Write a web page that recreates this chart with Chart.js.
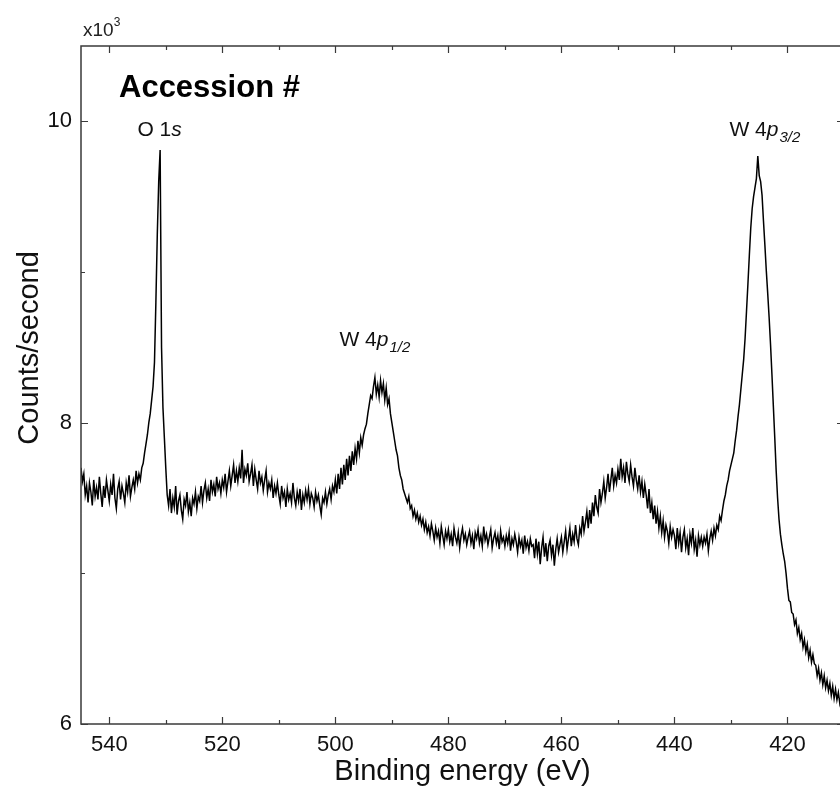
<!DOCTYPE html>
<html>
<head>
<meta charset="utf-8">
<script src="https://cdn.jsdelivr.net/npm/chart.js@4.4.1/dist/chart.umd.min.js"></script>
<style>
  html, body { margin: 0; padding: 0; background: #fff; overflow: hidden; }
  #wrap { position: relative; width: 860px; height: 789px; }
</style>
</head>
<body>
<div id="wrap"><canvas id="xps"></canvas></div>
<script>
// Binding energy grid (eV), 0.25 eV steps, one row = 5 eV
const energy = [
  545, 544.75, 544.5, 544.25, 544, 543.75, 543.5, 543.25, 543, 542.75, 542.5, 542.25, 542, 541.75, 541.5, 541.25, 541, 540.75, 540.5, 540.25,
  540, 539.75, 539.5, 539.25, 539, 538.75, 538.5, 538.25, 538, 537.75, 537.5, 537.25, 537, 536.75, 536.5, 536.25, 536, 535.75, 535.5, 535.25,
  535, 534.75, 534.5, 534.25, 534, 533.75, 533.5, 533.25, 533, 532.75, 532.5, 532.25, 532, 531.75, 531.5, 531.25, 531, 530.75, 530.5, 530.25,
  530, 529.75, 529.5, 529.25, 529, 528.75, 528.5, 528.25, 528, 527.75, 527.5, 527.25, 527, 526.75, 526.5, 526.25, 526, 525.75, 525.5, 525.25,
  525, 524.75, 524.5, 524.25, 524, 523.75, 523.5, 523.25, 523, 522.75, 522.5, 522.25, 522, 521.75, 521.5, 521.25, 521, 520.75, 520.5, 520.25,
  520, 519.75, 519.5, 519.25, 519, 518.75, 518.5, 518.25, 518, 517.75, 517.5, 517.25, 517, 516.75, 516.5, 516.25, 516, 515.75, 515.5, 515.25,
  515, 514.75, 514.5, 514.25, 514, 513.75, 513.5, 513.25, 513, 512.75, 512.5, 512.25, 512, 511.75, 511.5, 511.25, 511, 510.75, 510.5, 510.25,
  510, 509.75, 509.5, 509.25, 509, 508.75, 508.5, 508.25, 508, 507.75, 507.5, 507.25, 507, 506.75, 506.5, 506.25, 506, 505.75, 505.5, 505.25,
  505, 504.75, 504.5, 504.25, 504, 503.75, 503.5, 503.25, 503, 502.75, 502.5, 502.25, 502, 501.75, 501.5, 501.25, 501, 500.75, 500.5, 500.25,
  500, 499.75, 499.5, 499.25, 499, 498.75, 498.5, 498.25, 498, 497.75, 497.5, 497.25, 497, 496.75, 496.5, 496.25, 496, 495.75, 495.5, 495.25,
  495, 494.75, 494.5, 494.25, 494, 493.75, 493.5, 493.25, 493, 492.75, 492.5, 492.25, 492, 491.75, 491.5, 491.25, 491, 490.75, 490.5, 490.25,
  490, 489.75, 489.5, 489.25, 489, 488.75, 488.5, 488.25, 488, 487.75, 487.5, 487.25, 487, 486.75, 486.5, 486.25, 486, 485.75, 485.5, 485.25,
  485, 484.75, 484.5, 484.25, 484, 483.75, 483.5, 483.25, 483, 482.75, 482.5, 482.25, 482, 481.75, 481.5, 481.25, 481, 480.75, 480.5, 480.25,
  480, 479.75, 479.5, 479.25, 479, 478.75, 478.5, 478.25, 478, 477.75, 477.5, 477.25, 477, 476.75, 476.5, 476.25, 476, 475.75, 475.5, 475.25,
  475, 474.75, 474.5, 474.25, 474, 473.75, 473.5, 473.25, 473, 472.75, 472.5, 472.25, 472, 471.75, 471.5, 471.25, 471, 470.75, 470.5, 470.25,
  470, 469.75, 469.5, 469.25, 469, 468.75, 468.5, 468.25, 468, 467.75, 467.5, 467.25, 467, 466.75, 466.5, 466.25, 466, 465.75, 465.5, 465.25,
  465, 464.75, 464.5, 464.25, 464, 463.75, 463.5, 463.25, 463, 462.75, 462.5, 462.25, 462, 461.75, 461.5, 461.25, 461, 460.75, 460.5, 460.25,
  460, 459.75, 459.5, 459.25, 459, 458.75, 458.5, 458.25, 458, 457.75, 457.5, 457.25, 457, 456.75, 456.5, 456.25, 456, 455.75, 455.5, 455.25,
  455, 454.75, 454.5, 454.25, 454, 453.75, 453.5, 453.25, 453, 452.75, 452.5, 452.25, 452, 451.75, 451.5, 451.25, 451, 450.75, 450.5, 450.25,
  450, 449.75, 449.5, 449.25, 449, 448.75, 448.5, 448.25, 448, 447.75, 447.5, 447.25, 447, 446.75, 446.5, 446.25, 446, 445.75, 445.5, 445.25,
  445, 444.75, 444.5, 444.25, 444, 443.75, 443.5, 443.25, 443, 442.75, 442.5, 442.25, 442, 441.75, 441.5, 441.25, 441, 440.75, 440.5, 440.25,
  440, 439.75, 439.5, 439.25, 439, 438.75, 438.5, 438.25, 438, 437.75, 437.5, 437.25, 437, 436.75, 436.5, 436.25, 436, 435.75, 435.5, 435.25,
  435, 434.75, 434.5, 434.25, 434, 433.75, 433.5, 433.25, 433, 432.75, 432.5, 432.25, 432, 431.75, 431.5, 431.25, 431, 430.75, 430.5, 430.25,
  430, 429.75, 429.5, 429.25, 429, 428.75, 428.5, 428.25, 428, 427.75, 427.5, 427.25, 427, 426.75, 426.5, 426.25, 426, 425.75, 425.5, 425.25,
  425, 424.75, 424.5, 424.25, 424, 423.75, 423.5, 423.25, 423, 422.75, 422.5, 422.25, 422, 421.75, 421.5, 421.25, 421, 420.75, 420.5, 420.25,
  420, 419.75, 419.5, 419.25, 419, 418.75, 418.5, 418.25, 418, 417.75, 417.5, 417.25, 417, 416.75, 416.5, 416.25, 416, 415.75, 415.5, 415.25,
  415, 414.75, 414.5, 414.25, 414, 413.75, 413.5, 413.25, 413, 412.75, 412.5, 412.25, 412, 411.75, 411.5, 411.25, 411, 410.75, 410.5, 410.25
];

// Counts/second, same rows as above
const counts = [
  7700, 7610, 7660, 7520, 7580, 7470, 7600, 7540, 7450, 7620, 7510, 7570, 7490, 7640, 7530, 7440, 7580, 7500, 7620, 7550,
  7480, 7590, 7520, 7660, 7500, 7430, 7560, 7610, 7490, 7580, 7530, 7470, 7600, 7540, 7650, 7510, 7570, 7620, 7560, 7680,
  7600, 7660, 7620, 7700, 7730, 7800, 7860, 7920, 8000, 8060, 8150, 8240, 8400, 8800, 9250, 9600, 9810, 8500, 8100, 7900,
  7700, 7520, 7450, 7560, 7400, 7500, 7440, 7580, 7390, 7480, 7520, 7420, 7360, 7490, 7450, 7540, 7410, 7470, 7380, 7500,
  7460, 7540, 7430, 7510, 7480, 7580, 7470, 7550, 7600, 7500, 7560, 7480, 7620, 7540, 7590, 7510, 7640, 7560, 7600, 7530,
  7620, 7570, 7660, 7540, 7610, 7680, 7580, 7650, 7720, 7600, 7680, 7610, 7700, 7630, 7820, 7600, 7690, 7650, 7730, 7610,
  7660, 7720, 7580, 7690, 7620, 7560, 7680, 7600, 7640, 7550, 7620, 7680, 7540, 7600, 7560, 7620, 7500, 7580, 7530, 7600,
  7520, 7460, 7580, 7500, 7540, 7440, 7560, 7490, 7530, 7470, 7600, 7500, 7450, 7540, 7480, 7560, 7420, 7520, 7470, 7550,
  7490, 7560, 7460, 7530, 7500, 7440, 7540, 7480, 7520, 7450, 7390, 7500, 7470, 7540, 7460, 7520, 7560, 7490, 7580, 7540,
  7620, 7530, 7660, 7560, 7700, 7590, 7720, 7620, 7760, 7650, 7780, 7680, 7810, 7720, 7830, 7760, 7880, 7800, 7900, 7850,
  7920, 7960, 7990, 8060, 8120, 8180, 8160, 8240, 8300, 8190, 8250, 8170, 8280, 8200, 8260, 8150, 8230, 8120, 8160, 8060,
  8000, 7940, 7880, 7820, 7780, 7700, 7650, 7620, 7560, 7530, 7500, 7470, 7510, 7430, 7450, 7380, 7420, 7360, 7400, 7340,
  7380, 7320, 7360, 7290, 7340, 7270, 7310, 7250, 7330, 7280, 7220, 7300, 7240, 7280, 7200, 7310, 7250, 7190, 7280, 7230,
  7290, 7210, 7260, 7180, 7300, 7240, 7200, 7270, 7170, 7250, 7300, 7220, 7260, 7190, 7240, 7280, 7200, 7250, 7160, 7270,
  7230, 7290, 7200, 7250, 7180, 7310, 7220, 7260, 7190, 7240, 7290, 7170, 7230, 7270, 7200, 7250, 7160, 7280, 7210, 7240,
  7180, 7250, 7200, 7270, 7150, 7230, 7190, 7260, 7210, 7140, 7240, 7180, 7220, 7130, 7250, 7170, 7210, 7150, 7230, 7180,
  7190, 7100, 7230, 7130, 7210, 7060, 7170, 7240, 7110, 7200, 7080, 7180, 7220, 7120, 7190, 7050, 7160, 7230, 7140, 7190,
  7240, 7140, 7210, 7280, 7160, 7230, 7300, 7180, 7260, 7210, 7320, 7230, 7190, 7300, 7260, 7380, 7280, 7340, 7410, 7300,
  7420, 7330, 7470, 7380, 7520, 7440, 7400, 7560, 7470, 7530, 7610, 7500, 7570, 7660, 7540, 7620, 7700, 7580, 7650, 7600,
  7690, 7620, 7760, 7640, 7700, 7600, 7740, 7660, 7610, 7720, 7640, 7580, 7700, 7620, 7560, 7650, 7540, 7610, 7500, 7590,
  7520, 7430, 7560, 7400, 7470, 7360, 7450, 7330, 7410, 7300, 7380, 7270, 7350, 7240, 7320, 7280, 7200, 7310, 7240, 7290,
  7250, 7160, 7300, 7200, 7270, 7140, 7240, 7290, 7170, 7230, 7120, 7260, 7200, 7300, 7160, 7220, 7110, 7250, 7190, 7240,
  7180, 7240, 7200, 7260, 7150, 7230, 7280, 7220, 7300, 7250, 7320, 7290, 7380, 7350, 7420, 7480, 7520, 7580, 7620, 7680,
  7720, 7760, 7800, 7880, 7950, 8040, 8120, 8220, 8320, 8420, 8560, 8740, 8920, 9110, 9290, 9420, 9500, 9560, 9620, 9770,
  9640, 9600, 9510, 9340, 9180, 9010, 8860, 8700, 8520, 8320, 8110, 7900, 7680, 7500, 7360, 7260, 7190, 7130, 7080, 7000,
  6900, 6820, 6810, 6740, 6730, 6660, 6690, 6600, 6640, 6560, 6600, 6510, 6560, 6480, 6530, 6440, 6490, 6410, 6460, 6400,
  6390, 6320, 6370, 6290, 6340, 6260, 6320, 6240, 6290, 6220, 6270, 6190, 6250, 6170, 6230, 6160, 6210, 6140, 6190, 6150
];

// Axis ticks
const xMajorTicks = [540, 520, 500, 480, 460, 440, 420];
const xMinorTicks = [530, 510, 490, 470, 450, 430, 410];
const yMajorTicks = [6000, 8000, 10000];
const yMinorTicks = [7000, 9000];

// Peak labels: text pieces (plain, italic orbital, subscript) and anchor in data units
const peakPlain = ["O 1", "W 4", "W 4"];
const peakItalic = ["s", "p", "p"];
const peakSub = ["", "1/2", "3/2"];
const peakEnergy = [531.1, 493.0, 424.0];
const peakCounts = [9900, 8510, 9900];

const FONT = "'Liberation Sans', Arial, sans-serif";

// Draw the axis frame with inward ticks, the labels and the heading
const framePlugin = {
  id: "frame",
  afterDatasetsDraw(chart) {
    const { ctx, chartArea: a, scales: { x, y } } = chart;
    ctx.save();
    ctx.strokeStyle = "#3a3a3a";
    ctx.lineWidth = 1.5;
    ctx.strokeRect(a.left, a.top, a.right - a.left, a.bottom - a.top);

    ctx.lineWidth = 1.2;
    ctx.beginPath();
    const xt = (list, len) => list.forEach(v => {
      const px = Math.round(x.getPixelForValue(v)) + 0.5;
      ctx.moveTo(px, a.bottom); ctx.lineTo(px, a.bottom - len);
      ctx.moveTo(px, a.top); ctx.lineTo(px, a.top + len);
    });
    const yt = (list, len) => list.forEach(v => {
      const py = Math.round(y.getPixelForValue(v)) + 0.5;
      ctx.moveTo(a.left, py); ctx.lineTo(a.left + len, py);
      ctx.moveTo(a.right, py); ctx.lineTo(a.right - len, py);
    });
    xt(xMajorTicks, 7); xt(xMinorTicks, 4);
    yt(yMajorTicks, 7); yt(yMinorTicks, 4);
    ctx.stroke();

    // peak labels
    ctx.fillStyle = "#111";
    ctx.textBaseline = "alphabetic";
    ctx.textAlign = "left";
    peakPlain.forEach((plain, i) => {
      const fPlain = "21px " + FONT, fIt = "italic 21px " + FONT, fSub = "italic 15px " + FONT;
      ctx.font = fPlain; const w1 = ctx.measureText(plain).width;
      ctx.font = fIt; const w2 = ctx.measureText(peakItalic[i]).width;
      ctx.font = fSub; const w3 = peakSub[i] ? ctx.measureText(peakSub[i]).width + 1 : 0;
      let px = x.getPixelForValue(peakEnergy[i]) - (w1 + w2 + w3) / 2;
      const py = y.getPixelForValue(peakCounts[i]);
      ctx.font = fPlain; ctx.fillText(plain, px, py); px += w1;
      ctx.font = fIt; ctx.fillText(peakItalic[i], px, py); px += w2 + 1;
      if (peakSub[i]) { ctx.font = fSub; ctx.fillText(peakSub[i], px, py + 6); }
    });

    // heading
    ctx.font = "bold 31px " + FONT;
    ctx.fillStyle = "#000";
    ctx.fillText("Accession #", a.left + 38, a.top + 51);

    // exponent of the y axis
    ctx.font = "19px " + FONT;
    ctx.fillStyle = "#222";
    ctx.fillText("x10", a.left + 2, a.top - 10);
    const wx = ctx.measureText("x10").width;
    ctx.font = "12px " + FONT;
    ctx.fillText("3", a.left + 2 + wx, a.top - 20);

    // y axis title, starts just below the "8" tick label and reads upward
    ctx.translate(a.left - 43, y.getPixelForValue(8000) + 22);
    ctx.rotate(-Math.PI / 2);
    ctx.font = "29px " + FONT;
    ctx.fillStyle = "#111";
    ctx.textAlign = "left";
    ctx.textBaseline = "alphabetic";
    ctx.fillText("Counts/second", 0, 0);
    ctx.restore();
  }
};

new Chart(document.getElementById("xps"), {
  type: "line",
  data: {
    datasets: [{
      data: energy.map((e, i) => ({ x: e, y: counts[i] })),
      borderColor: "#000",
      borderWidth: 1.5,
      pointRadius: 0,
      tension: 0,
      fill: false
    }]
  },
  options: {
    responsive: true,
    maintainAspectRatio: false,
    animation: false,
    layout: { padding: { left: 0, top: 46, right: 16, bottom: 0 } },
    plugins: { legend: { display: false }, tooltip: { enabled: false } },
    scales: {
      x: {
        type: "linear",
        reverse: true,
        min: 410,
        max: 545,
        afterBuildTicks: s => { s.ticks = xMajorTicks.map(v => ({ value: v })); },
        afterFit: s => { s.height = 65; },
        grid: { display: false, drawTicks: false },
        border: { display: false },
        ticks: { color: "#111", font: { family: FONT, size: 22 }, padding: 8, maxRotation: 0 },
        title: {
          display: true,
          text: "Binding energy (eV)",
          color: "#111",
          font: { family: FONT, size: 29, lineHeight: 1 },
          padding: { top: 0, bottom: 3 }
        }
      },
      y: {
        min: 6000,
        max: 10500,
        afterBuildTicks: s => { s.ticks = yMajorTicks.map(v => ({ value: v })); },
        afterFit: s => { s.width = 81; },
        grid: { display: false, drawTicks: false },
        border: { display: false },
        ticks: { color: "#111", font: { family: FONT, size: 22 }, padding: 9, callback: v => v / 1000 },
        title: { display: false }
      }
    }
  },
  plugins: [framePlugin]
});
</script>
</body>
</html>
